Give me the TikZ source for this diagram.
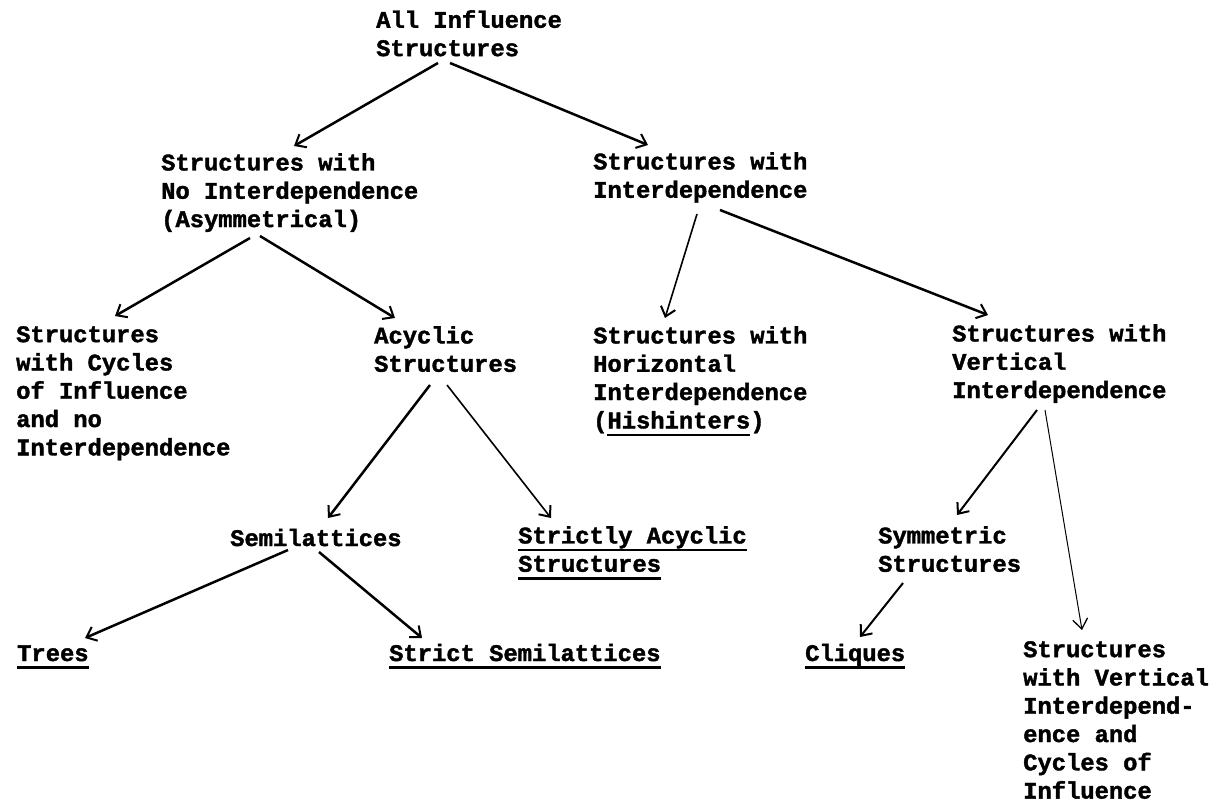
\documentclass[tikz,border=0pt]{standalone}
\usepackage{fontspec}
\usetikzlibrary{arrows.meta}
\newfontfamily\tw{Liberation Mono}[BoldFeatures={FakeBold=1.6}]
\newcommand\tul[1]{\setbox0=\hbox{#1}\rlap{\rule[-8pt]{\wd0}{2.8pt}}\box0}
\tikzset{
  lbl/.style={anchor=north west, inner sep=0pt, align=left,
    font=\tw\bfseries\fontsize{23.8}{28.3}\selectfont,
    execute at begin node=\strut},
  arr/.style={line width=2.5pt, -{Straight Barb[length=9pt,width=15pt,line width=2pt]}},
  thinarr/.style={arr, line width=1.6pt},
  hairarr/.style={line width=1pt, -{Straight Barb[length=10pt,width=15pt,line width=1.3pt]}}
}
\begin{document}
\begin{tikzpicture}[x=1pt,y=-1pt]
\useasboundingbox (0,0) rectangle (1228,807);
\fill[white] (0,0) rectangle (1228,807);
\node[lbl] (root) at (376,10) {All Influence\\Structures};
\node[lbl] (noint) at (161,153) {Structures with\\No Interdependence\\(Asymmetrical)};
\node[lbl] (inter) at (593,152) {Structures with\\Interdependence};
\node[lbl] (cyc) at (16,326) {Structures\\with Cycles\\of Influence\\and no\\Interdependence};
\node[lbl] (acyc) at (374,326) {Acyclic\\Structures};
\node[lbl] (horiz) at (593,326) {Structures with\\Horizontal\\Interdependence\\(\tul{Hishinters})};
\node[lbl] (vert) at (952,324) {Structures with\\Vertical\\Interdependence};
\node[lbl] (semi) at (230,526) {Semilattices};
\node[lbl] (strict) at (518,526) {\tul{Strictly Acyclic}\\\tul{Structures}};
\node[lbl] (symm) at (878,526) {Symmetric\\Structures};
\node[lbl] (trees) at (17,641) {\tul{Trees}};
\node[lbl] (ssemi) at (389,641) {\tul{Strict Semilattices}};
\node[lbl] (cliq) at (805,641) {\tul{Cliques}};
\node[lbl] (last) at (1023,641) {Structures\\with Vertical\\Interdepend-\\ence and\\Cycles of\\Influence};

\draw[arr] ([shift={(62,53)}]root.north west) -- ([shift={(133,-7)}]noint.north west);
\draw[arr] ([shift={(74,53)}]root.north west) -- ([shift={(55,-7)}]inter.north west);
\draw[arr] ([shift={(89,85)}]noint.north west) -- ([shift={(99,-10)}]cyc.north west);
\draw[arr] ([shift={(99,83)}]noint.north west) -- ([shift={(21,-8)}]acyc.north west);
\draw[thinarr] ([shift={(104,62)}]inter.north west) -- ([shift={(72,-8)}]horiz.north west);
\draw[arr] ([shift={(127,58)}]inter.north west) -- ([shift={(36,-9)}]vert.north west);
\draw[arr] ([shift={(56,59)}]acyc.north west) -- ([shift={(98,-8)}]semi.north west);
\draw[thinarr] ([shift={(73,59)}]acyc.north west) -- ([shift={(33,-8)}]strict.north west);
\draw[arr,line width=2pt] ([shift={(85,86)}]vert.north west) -- ([shift={(79,-11)}]symm.north west);
\draw[hairarr] ([shift={(93,86)}]vert.north west) -- ([shift={(59,-11)}]last.north west);
\draw[arr] ([shift={(58,24)}]semi.north west) -- ([shift={(68,-3)}]trees.north west);
\draw[arr] ([shift={(89,26)}]semi.north west) -- ([shift={(33,-3)}]ssemi.north west);
\draw[arr,line width=2pt] ([shift={(25,57)}]symm.north west) -- ([shift={(55,-4)}]cliq.north west);
\end{tikzpicture}
\end{document}
